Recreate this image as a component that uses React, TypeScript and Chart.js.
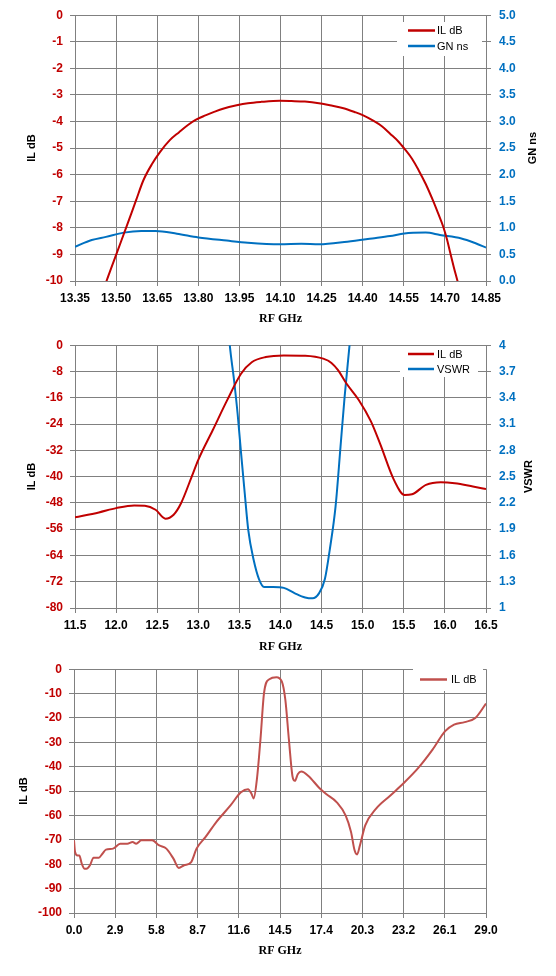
import { useEffect, useRef } from 'react';
import { Chart, registerables } from 'chart.js';

Chart.register(...registerables);

// ---- chart 1: passband IL + group delay ----
const pbFreq = [13.445, 13.465, 13.502, 13.54, 13.573, 13.6, 13.631, 13.66, 13.696, 13.73, 13.761, 13.79, 13.826, 13.86, 13.89, 13.94, 13.981, 14.03, 14.098, 14.14, 14.189, 14.24, 14.28, 14.33, 14.37, 14.4, 14.435, 14.47, 14.5, 14.53, 14.552, 14.58, 14.604, 14.63, 14.656, 14.675, 14.694, 14.708, 14.72, 14.733, 14.746, 14.76];
const pbIL = [-10.6, -10.0, -8.96, -7.9, -6.96, -6.2, -5.6, -5.15, -4.7, -4.4, -4.14, -3.94, -3.77, -3.63, -3.52, -3.39, -3.31, -3.26, -3.22, -3.23, -3.25, -3.31, -3.39, -3.5, -3.64, -3.76, -3.95, -4.18, -4.46, -4.75, -5.02, -5.4, -5.83, -6.35, -6.96, -7.45, -7.96, -8.45, -8.96, -9.5, -10.0, -10.6];
const gdFreq = [13.35, 13.411, 13.463, 13.528, 13.592, 13.644, 13.722, 13.8, 13.904, 13.981, 14.098, 14.176, 14.241, 14.344, 14.435, 14.5, 14.552, 14.63, 14.682, 14.76, 14.812, 14.85];
const gdNs = [0.645, 0.77, 0.83, 0.91, 0.94, 0.94, 0.89, 0.82, 0.76, 0.72, 0.69, 0.7, 0.69, 0.74, 0.8, 0.845, 0.895, 0.91, 0.865, 0.8, 0.71, 0.63];
const pbXTicks = [13.35, 13.5, 13.65, 13.8, 13.95, 14.1, 14.25, 14.4, 14.55, 14.7, 14.85];
const pbYTicks = [0, -1, -2, -3, -4, -5, -6, -7, -8, -9, -10];
const gdTicks = [0, 0.5, 1, 1.5, 2, 2.5, 3, 3.5, 4, 4.5, 5];

// ---- chart 2: IL + VSWR ----
const bbFreq = [11.5, 11.79, 12.0, 12.22, 12.35, 12.48, 12.6, 12.7, 12.79, 12.92, 13.0, 13.175, 13.35, 13.52, 13.65, 13.82, 14.04, 14.3, 14.52, 14.62, 14.7, 14.8, 14.95, 15.1, 15.21, 15.38, 15.51, 15.6, 15.77, 15.95, 16.12, 16.34, 16.5];
const bbIL = [-52.4, -50.9, -49.6, -48.8, -48.9, -50.1, -52.8, -51.6, -48.1, -40.0, -34.9, -25.9, -16.8, -8.7, -5.2, -3.6, -3.1, -3.2, -4.1, -5.4, -7.6, -11.6, -16.6, -23.2, -29.9, -41.0, -45.6, -45.4, -42.5, -41.7, -42.0, -43.0, -43.8];
const vsFreq = [13.37, 13.383, 13.435, 13.478, 13.52, 13.565, 13.608, 13.673, 13.738, 13.8, 13.91, 14.04, 14.17, 14.3, 14.39, 14.47, 14.54, 14.6, 14.67, 14.73, 14.78, 14.84, 14.855];
const vsVal = [4.15, 4.0, 3.6, 3.22, 2.77, 2.31, 1.89, 1.55, 1.33, 1.24, 1.24, 1.23, 1.17, 1.12, 1.11, 1.17, 1.33, 1.67, 2.16, 2.84, 3.41, 4.0, 4.15];
const bbXTicks = [11.5, 12, 12.5, 13, 13.5, 14, 14.5, 15, 15.5, 16, 16.5];
const bbYTicks = [0, -8, -16, -24, -32, -40, -48, -56, -64, -72, -80];
const vsTicks = [1, 1.3, 1.6, 1.9, 2.2, 2.5, 2.8, 3.1, 3.4, 3.7, 4];

// ---- chart 3: wideband IL ----
const wbFreq = [0.0, 0.075, 0.25, 0.375, 0.55, 0.75, 0.875, 1.125, 1.375, 1.75, 2.0, 2.25, 2.75, 3.25, 3.75, 4.125, 4.375, 4.75, 5.5, 6.0, 6.5, 7.0, 7.375, 7.75, 8.25, 8.625, 9.25, 10.0, 11.0, 11.75, 12.25, 12.5, 12.65, 12.875, 13.125, 13.375, 13.75, 14.25, 14.625, 14.875, 15.125, 15.375, 15.55, 15.75, 16.0, 16.5, 17.25, 17.75, 18.5, 19.125, 19.5, 19.75, 19.925, 20.125, 20.5, 21.25, 22.25, 23.25, 24.25, 25.25, 26.125, 26.75, 27.5, 28.25, 29.0];
const wbIL = [-70.2, -75, -76.4, -76.4, -79.8, -81.8, -81.8, -80.4, -77.3, -77.3, -75.7, -74, -73.6, -71.6, -71.6, -70.9, -71.6, -70.2, -70.2, -72.3, -73.6, -77.7, -81.5, -80.4, -79.1, -73.6, -68.9, -62.8, -56.0, -50.5, -49.2, -51.2, -53.0, -45.1, -28.8, -9.8, -4.1, -3.3, -5.0, -12.5, -28.8, -43.8, -45.8, -43.1, -42.0, -43.8, -48.6, -51.2, -54.6, -60.1, -66.8, -74.3, -76, -72.3, -64.1, -57.3, -51.9, -46.5, -40.4, -32.9, -25.4, -22.7, -21.7, -20.0, -14.1];
const wbXTicks = [0, 2.9, 5.8, 8.7, 11.6, 14.5, 17.4, 20.3, 23.2, 26.1, 29.0];
const wbYTicks = [0, -10, -20, -30, -40, -50, -60, -70, -80, -90, -100];

const GRID = '#808080';
const RED = '#C00000';
const BLUE = '#0070C0';
const TICK_FONT = { family: 'Liberation Sans', weight: 'bold' as const, size: 12 };

type Series = { label: string; color: string; x: number[]; y: number[]; axis: string };
type Axis = { min: number; max: number; ticks: number[]; fmt: (v: number) => string };
type Cfg = {
  top: number;
  height: number;
  plotLeft: number;
  plotRight: number;
  plotTop: number;
  plotBottom: number;
  xAxis: Axis;
  yAxis: Axis;
  y1?: Axis & { title: string; titleX: number };
  yTitleX: number;
  xTitleY: number;
  legend: { box: number[]; lineX: number[]; rowY: number[]; textX: number };
  series: Series[];
};

function FilterChart({ cfg }: { cfg: Cfg }) {
  const chartRef = useRef<HTMLCanvasElement>(null);
  const chartInstance = useRef<Chart | null>(null);

  useEffect(() => {
    if (!chartRef.current) return;
    const ctx = chartRef.current.getContext('2d');
    if (!ctx) return;
    if (chartInstance.current) chartInstance.current.destroy();

    const t = cfg.top;
    const setTicks = (vals: number[]) => (s: any) => {
      s.ticks = vals.map((v) => ({ value: v }));
    };

    const scales: any = {
      x: {
        type: 'linear',
        min: cfg.xAxis.min,
        max: cfg.xAxis.max,
        afterBuildTicks: setTicks(cfg.xAxis.ticks),
        afterFit: (s: any) => { s.height = cfg.top + cfg.height - cfg.plotBottom; },
        grid: { color: GRID, lineWidth: 1, tickLength: 5 },
        border: { color: GRID },
        ticks: { color: '#000', font: TICK_FONT, padding: 5, maxRotation: 0, autoSkip: false, callback: (v: any) => cfg.xAxis.fmt(Number(v)) },
        title: {
          display: true,
          text: 'RF GHz',
          color: '#000',
          font: { family: 'Liberation Serif', weight: 'bold', size: 12 },
          padding: { top: 0, bottom: cfg.top + cfg.height - cfg.xTitleY - 7.2 },
        },
      },
      y: {
        position: 'left',
        min: cfg.yAxis.min,
        max: cfg.yAxis.max,
        afterBuildTicks: setTicks(cfg.yAxis.ticks),
        afterFit: (s: any) => { s.width = cfg.plotLeft; },
        grid: { color: GRID, lineWidth: 1, tickLength: 5 },
        border: { color: GRID },
        ticks: { color: RED, font: TICK_FONT, padding: 7, callback: (v: any) => cfg.yAxis.fmt(Number(v)) },
        title: {
          display: true,
          text: 'IL dB',
          color: '#000',
          font: { family: 'Liberation Sans', weight: 'bold', size: 11 },
          padding: { top: cfg.yTitleX - 6.6, bottom: 0 },
        },
      },
    };
    if (cfg.y1) {
      const y1 = cfg.y1;
      scales.y1 = {
        position: 'right',
        min: y1.min,
        max: y1.max,
        afterBuildTicks: setTicks(y1.ticks),
        afterFit: (s: any) => { s.width = 556 - cfg.plotRight; },
        grid: { drawOnChartArea: false, color: GRID, lineWidth: 1, tickLength: 5 },
        border: { color: GRID },
        ticks: { color: BLUE, font: TICK_FONT, padding: 8, callback: (v: any) => y1.fmt(Number(v)) },
      };
    }

    // Excel style legend box inside the plot + right axis title read bottom-up
    const extras = {
      id: 'extras',
      afterDraw(chart: Chart) {
        const c = chart.ctx;
        c.save();
        const [bx, by, bw, bh] = cfg.legend.box;
        c.fillStyle = '#fff';
        c.fillRect(bx, by - t, bw, bh);
        c.font = '11px "Liberation Sans"';
        c.textBaseline = 'middle';
        c.textAlign = 'left';
        cfg.series.forEach((s, i) => {
          const yy = cfg.legend.rowY[i] - t;
          c.strokeStyle = s.color;
          c.lineWidth = 2.5;
          c.beginPath();
          c.moveTo(cfg.legend.lineX[0], yy);
          c.lineTo(cfg.legend.lineX[1], yy);
          c.stroke();
          c.fillStyle = '#000';
          c.fillText(s.label, cfg.legend.textX, yy + 0.5);
        });
        if (cfg.y1) {
          const { top, bottom } = chart.chartArea;
          c.translate(cfg.y1.titleX, (top + bottom) / 2);
          c.rotate(-Math.PI / 2);
          c.font = 'bold 11px "Liberation Sans"';
          c.textAlign = 'center';
          c.fillText(cfg.y1.title, 0, 0);
        }
        c.restore();
      },
    };

    chartInstance.current = new Chart(ctx, {
      type: 'line',
      data: {
        datasets: cfg.series.map((s) => ({
          label: s.label,
          data: s.x.map((x, i) => ({ x, y: s.y[i] })),
          borderColor: s.color,
          backgroundColor: s.color,
          borderWidth: 2,
          pointRadius: 0,
          fill: false,
          cubicInterpolationMode: 'monotone' as const,
          yAxisID: s.axis,
        })),
      },
      options: {
        responsive: false,
        animation: false,
        layout: { padding: { top: cfg.plotTop - t, left: 0, right: cfg.y1 ? 0 : 556 - cfg.plotRight, bottom: 0 } },
        plugins: { legend: { display: false }, tooltip: { enabled: false } },
        scales,
      },
      plugins: [extras],
    });

    return () => {
      if (chartInstance.current) {
        chartInstance.current.destroy();
        chartInstance.current = null;
      }
    };
  }, [cfg]);

  return (
    <div style={{ position: 'absolute', left: 0, top: cfg.top, width: 556, height: cfg.height }}>
      <canvas ref={chartRef} width={556} height={cfg.height} style={{ display: 'block' }} />
    </div>
  );
}

const fix = (d: number) => (v: number) => v.toFixed(d);
const plain = (v: number) => String(Math.round(v * 10) / 10);

const passband: Cfg = {
  top: 0, height: 330,
  plotLeft: 75, plotRight: 486, plotTop: 14, plotBottom: 281,
  xAxis: { min: 13.35, max: 14.85, ticks: pbXTicks, fmt: fix(2) },
  yAxis: { min: -10, max: 0, ticks: pbYTicks, fmt: plain },
  y1: { min: 0, max: 5, ticks: gdTicks, fmt: fix(1), title: 'GN ns', titleX: 533 },
  yTitleX: 32, xTitleY: 319,
  legend: { box: [397, 22, 85, 34], lineX: [408, 435], rowY: [30.5, 46], textX: 437 },
  series: [
    { label: 'IL dB', color: RED, x: pbFreq, y: pbIL, axis: 'y' },
    { label: 'GN ns', color: BLUE, x: gdFreq, y: gdNs, axis: 'y1' },
  ],
};

const broadband: Cfg = {
  top: 330, height: 325,
  plotLeft: 75, plotRight: 486, plotTop: 344, plotBottom: 608,
  xAxis: { min: 11.5, max: 16.5, ticks: bbXTicks, fmt: fix(1) },
  yAxis: { min: -80, max: 0, ticks: bbYTicks, fmt: plain },
  y1: { min: 1, max: 4, ticks: vsTicks, fmt: plain, title: 'VSWR', titleX: 529 },
  yTitleX: 32, xTitleY: 647,
  legend: { box: [400, 346, 78, 31], lineX: [408, 434], rowY: [354, 369], textX: 437 },
  series: [
    { label: 'IL dB', color: RED, x: bbFreq, y: bbIL, axis: 'y' },
    { label: 'VSWR', color: BLUE, x: vsFreq, y: vsVal, axis: 'y1' },
  ],
};

const wideband: Cfg = {
  top: 655, height: 321,
  plotLeft: 74, plotRight: 486, plotTop: 667, plotBottom: 913,
  xAxis: { min: 0, max: 29, ticks: wbXTicks, fmt: fix(1) },
  yAxis: { min: -100, max: 0, ticks: wbYTicks, fmt: plain },
  yTitleX: 24, xTitleY: 951,
  legend: { box: [413, 669, 70, 22], lineX: [420, 447], rowY: [679.5], textX: 451 },
  series: [{ label: 'IL dB', color: '#C0504D', x: wbFreq, y: wbIL, axis: 'y' }],
};

export default function App() {
  return (
    <div style={{ position: 'absolute', left: 0, top: 0, width: 556, height: 976, background: '#fff' }}>
      <FilterChart cfg={passband} />
      <FilterChart cfg={broadband} />
      <FilterChart cfg={wideband} />
    </div>
  );
}
